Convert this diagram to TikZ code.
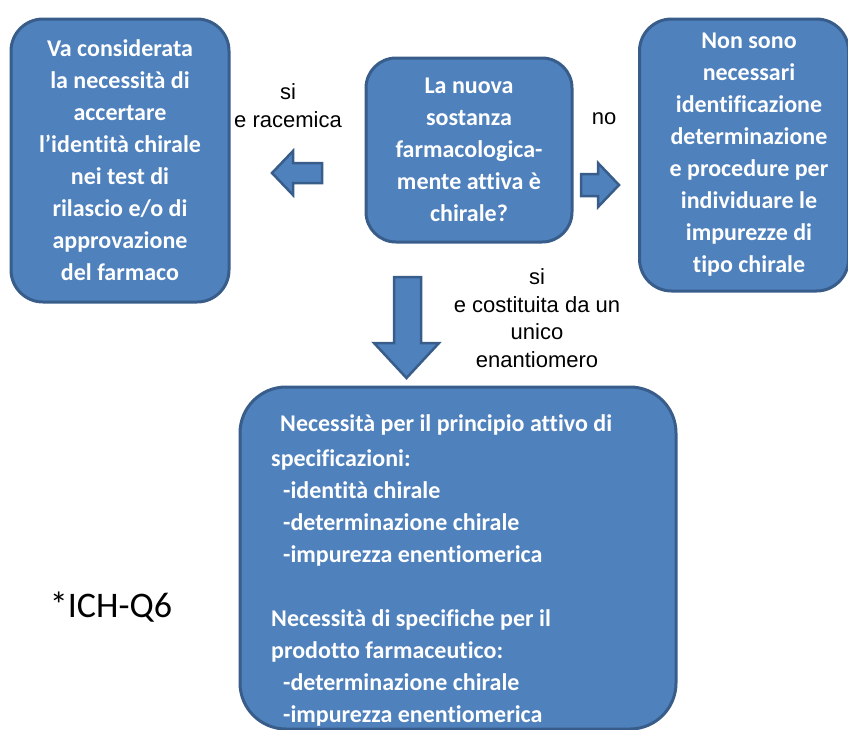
\documentclass[tikz,border=0pt]{standalone}
\usepackage{fontspec}
\setmainfont{Carlito}[Ligatures=NoCommon]
\newfontfamily\arialf{Liberation Sans}
\definecolor{boxfill}{HTML}{4F81BD}
\definecolor{boxline}{HTML}{385D8A}
\begin{document}
\begin{tikzpicture}[x=1pt,y=-1pt,
  bluebox/.style={draw=boxline, fill=boxfill, line width=3pt, inner sep=0pt,
    text=white, font=\fontsize{24}{32}\selectfont\bfseries, align=center},
  blockarrow/.style={draw=boxline, fill=boxfill, line width=2.5pt, line join=miter},
  lbl/.style={font=\arialf\fontsize{22}{27.5}\selectfont, align=center, inner sep=0pt}
]
\useasboundingbox (0,0) rectangle (848,729);
% boxes
\node[bluebox, rounded corners=32pt, minimum width=218pt, minimum height=283pt] (left) at (120,160.5)
  {Va considerata\\la necessità di\\accertare\\l’identità chirale\\nei test di\\rilascio e/o di\\approvazione\\del farmaco};
\node[bluebox, rounded corners=30pt, minimum width=206pt, minimum height=184pt] (center) at (469,150)
  {La nuova\\sostanza\\farmacologica-\\mente attiva è\\chirale?};
\node[bluebox, rounded corners=32pt, minimum width=209pt, minimum height=272pt] (right) at (744,155)
  {\hspace*{10pt}Non sono\\\hspace*{10pt}necessari\\\hspace*{10pt}identificazione\\\hspace*{10pt}determinazione\\\hspace*{10pt}e procedure per\\\hspace*{10pt}individuare le\\\hspace*{10pt}impurezze di\\\hspace*{10pt}tipo chirale};
\node[bluebox, rounded corners=46pt, minimum width=436pt, minimum height=342pt] (bottom) at (458,558) {};
\node[anchor=north west, inner sep=0pt, text=white, align=left,
      font=\fontsize{24}{32}\selectfont\bfseries] (btext) at (271,414)
  {\hspace*{9pt}Necessità per il principio attivo di\\[3pt]
   specificazioni:\\
   \hspace*{12pt}-identità chirale\\
   \hspace*{12pt}-determinazione chirale\\
   \hspace*{12pt}-impurezza enentiomerica\\
   \mbox{}\\
   Necessità di specifiche per il\\
   prodotto farmaceutico:\\
   \hspace*{12pt}-determinazione chirale\\
   \hspace*{12pt}-impurezza enentiomerica};
% block arrows
\draw[blockarrow] (272,173) -- (293,151) -- (293,163) -- (322,163) -- (322,183) -- (293,183) -- (293,195) -- cycle;
\draw[blockarrow] (619,185) -- (598,163) -- (598,174) -- (581,174) -- (581,196) -- (598,196) -- (598,207) -- cycle;
\draw[blockarrow] (406.5,378) -- (374,343) -- (394,343) -- (394,277) -- (421,277) -- (421,343) -- (439,343) -- cycle;
% labels
\node[lbl] (lsi) at (288,105.5) {si\\e racemica};
\node[lbl, anchor=base] (lno) at (604,124) {no};
\node[lbl] (bsi) at (537,318) {si\\e costituita da un\\unico\\enantiomero};
\node[font=\fontsize{36}{40}\selectfont, inner sep=0pt] (ich) at (111,607) {*ICH-Q6};
\end{tikzpicture}
\end{document}
